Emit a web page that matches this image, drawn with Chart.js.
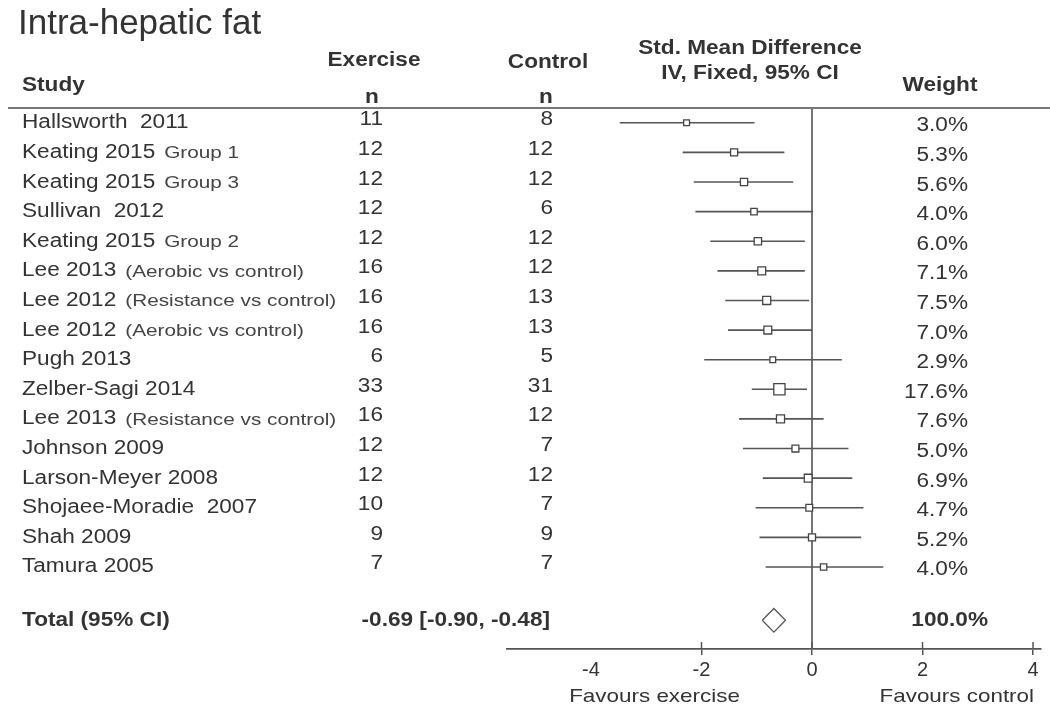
<!DOCTYPE html>
<html>
<head>
<meta charset="utf-8">
<script src="https://cdn.jsdelivr.net/npm/chart.js"></script>
<style>
  body { margin: 0; background: #fff; }
  #wrap { width: 1050px; height: 708px; position: relative; }
</style>
</head>
<body>
<div id="wrap"><canvas id="forest"></canvas></div>
<script>
const studies = ["Hallsworth  2011", "Keating 2015", "Keating 2015", "Sullivan  2012", "Keating 2015",
    "Lee 2013", "Lee 2012", "Lee 2012", "Pugh 2013", "Zelber-Sagi 2014", "Lee 2013", "Johnson 2009",
    "Larson-Meyer 2008", "Shojaee-Moradie  2007", "Shah 2009", "Tamura 2005"];
const subgroups = ["", "Group 1", "Group 3", "", "Group 2", "(Aerobic vs control)",
    "(Resistance vs control)", "(Aerobic vs control)", "", "", "(Resistance vs control)",
    "", "", "", "", ""];
const exerciseN = [11, 12, 12, 12, 12, 16, 16, 16, 6, 33, 16, 12, 12, 10, 9, 7];
const controlN = [8, 12, 12, 6, 12, 12, 13, 13, 5, 31, 12, 7, 12, 7, 9, 7];
const smd = [-2.27, -1.41, -1.23, -1.05, -0.98, -0.91, -0.82, -0.80, -0.71, -0.59, -0.57, -0.30, -0.07, -0.05, 0.00, 0.21];
const ciLow = [-3.48, -2.34, -2.14, -2.11, -1.84, -1.71, -1.57, -1.52, -1.95, -1.09, -1.32, -1.25, -0.89, -1.02, -0.95, -0.84];
const ciHigh = [-1.04, -0.50, -0.34, 0.02, -0.13, -0.13, -0.05, 0.00, 0.54, -0.09, 0.21, 0.66, 0.73, 0.93, 0.89, 1.29];
const weights = [3.0, 5.3, 5.6, 4.0, 6.0, 7.1, 7.5, 7.0, 2.9, 17.6, 7.6, 5.0, 6.9, 4.7, 5.2, 4.0];

const totalSmd = -0.69;
const totalLow = -0.90;
const totalHigh = -0.48;
const totalWeight = "100.0%";

const xTicks = [-4, -2, 0, 2, 4];

// row index of the total line, and bottom of the plot in row units
const totalRow = 16.8;
const yBottom = 17.77;

const INK = '#333';
const LINE = '#555';
const SANS = '"Liberation Sans", Arial, sans-serif';
const SX = 1.13; // the source figure is a bit wider than tall

// CI whiskers, one segment per study, broken by nulls
const whiskers = [];
studies.forEach((s, i) => {
    whiskers.push({x: ciLow[i], y: i}, {x: ciHigh[i], y: i}, {x: null, y: null});
});
const boxes = studies.map((s, i) => ({x: smd[i], y: i}));
const boxRadius = weights.map(w => (2 + 2.2 * Math.sqrt(w)) / Math.SQRT2);

const diamond = [
    {x: totalLow, y: totalRow}, {x: totalSmd, y: totalRow - 0.4},
    {x: totalHigh, y: totalRow}, {x: totalSmd, y: totalRow + 0.4},
    {x: totalLow, y: totalRow}
];

function text(ctx, str, x, y, font, align, sx) {
    ctx.save();
    ctx.translate(x, y);
    ctx.scale(sx || SX, 1);
    ctx.font = font;
    ctx.textAlign = align || 'left';
    ctx.fillText(str, 0, 0);
    ctx.restore();
}

const hideTick = v => v === -4;

const tablePlugin = {
    id: 'table',
    afterDraw(chart) {
        const ctx = chart.ctx;
        const xs = chart.scales.x, ys = chart.scales.y;
        ctx.save();
        ctx.fillStyle = INK;
        ctx.textBaseline = 'middle';

        text(ctx, 'Intra-hepatic fat', 18, 24, '35px ' + SANS, 'left', 1);

        const hb = 'bold 20px ' + SANS;
        text(ctx, 'Study', 22, 85, hb);
        text(ctx, 'Exercise', 374, 60, hb, 'center');
        text(ctx, 'n', 372, 97, hb, 'center');
        text(ctx, 'Control', 548, 62, hb, 'center');
        text(ctx, 'n', 546, 97, hb, 'center');
        text(ctx, 'Std. Mean Difference', 750, 48, hb, 'center');
        text(ctx, 'IV, Fixed, 95% CI', 750, 73, hb, 'center');
        text(ctx, 'Weight', 940, 85, hb, 'center');

        ctx.strokeStyle = '#777';
        ctx.lineWidth = 2;
        ctx.beginPath();
        ctx.moveTo(8, 108);
        ctx.lineTo(1050, 108);
        ctx.stroke();

        const rowFont = '20px ' + SANS;
        const subFont = '17px ' + SANS;
        studies.forEach((s, i) => {
            const y = ys.getPixelForValue(i);
            text(ctx, s, 22, y, rowFont);
            if (subgroups[i]) {
                ctx.font = rowFont;
                const w = ctx.measureText(s).width * SX;
                ctx.fillStyle = '#444';
                text(ctx, subgroups[i], 22 + w + 9, y + 1, subFont, 'left', 1.22);
                ctx.fillStyle = INK;
            }
            text(ctx, String(exerciseN[i]), 383, y - 3, rowFont, 'right');
            text(ctx, String(controlN[i]), 553, y - 3, rowFont, 'right');
            text(ctx, weights[i].toFixed(1) + '%', 968, y + 3, rowFont, 'right');
        });

        const ty = ys.getPixelForValue(totalRow);
        text(ctx, 'Total (95% CI)', 22, ty, hb);
        text(ctx, totalSmd.toFixed(2) + ' [' + totalLow.toFixed(2) + ', ' + totalHigh.toFixed(2) + ']', 550, ty, hb, 'right');
        text(ctx, totalWeight, 988, ty, hb, 'right');

        // tick marks crossing the axis line
        ctx.strokeStyle = LINE;
        ctx.lineWidth = 1.5;
        const ay = xs.top;
        xTicks.filter(t => !hideTick(t)).forEach(t => {
            const px = xs.getPixelForValue(t);
            ctx.beginPath();
            ctx.moveTo(px, ay - 7);
            ctx.lineTo(px, ay);
            ctx.stroke();
        });

        text(ctx, 'Favours exercise', xs.getPixelForValue(-2.85), 697, '19px ' + SANS, 'center', 1.18);
        text(ctx, 'Favours control', xs.getPixelForValue(2.62), 697, '19px ' + SANS, 'center', 1.18);
        ctx.restore();
    }
};

new Chart(document.getElementById('forest'), {
    type: 'scatter',
    data: {
        datasets: [
            {
                data: boxes,
                pointStyle: 'rect',
                pointRadius: boxRadius,
                pointBackgroundColor: '#fff',
                pointBorderColor: '#444',
                pointBorderWidth: 1.3,
                order: 0
            },
            {
                data: whiskers,
                showLine: true,
                spanGaps: false,
                borderColor: LINE,
                borderWidth: 1.6,
                pointRadius: 0,
                order: 2
            },
            {
                data: [{x: 0, y: -0.5}, {x: 0, y: yBottom}],
                showLine: true,
                borderColor: '#666',
                borderWidth: 1.8,
                pointRadius: 0,
                order: 3
            },
            {
                data: diamond,
                showLine: true,
                borderColor: LINE,
                borderWidth: 1.3,
                pointRadius: 0,
                order: 1
            }
        ]
    },
    options: {
        responsive: true,
        maintainAspectRatio: false,
        animation: false,
        layout: {padding: {left: 507, right: 2, top: 108, bottom: 0}},
        plugins: {legend: {display: false}, tooltip: {enabled: false}},
        scales: {
            x: {
                type: 'linear',
                min: -5.52,
                max: 4.14,
                afterBuildTicks: scale => { scale.ticks = xTicks.map(v => ({value: v})); },
                afterFit: scale => { scale.height = 59; },
                border: {display: true, color: LINE, width: 1.8},
                grid: {
                    drawOnChartArea: false, drawTicks: true, tickLength: 6, lineWidth: 1.5,
                    color: c => (c.tick && hideTick(c.tick.value)) ? 'rgba(0,0,0,0)' : LINE
                },
                ticks: {color: INK, font: {family: SANS, size: 20}, padding: 3}
            },
            y: {
                type: 'linear',
                reverse: true,
                min: -0.5,
                max: yBottom,
                display: false
            }
        }
    },
    plugins: [tablePlugin]
});
</script>
</body>
</html>
